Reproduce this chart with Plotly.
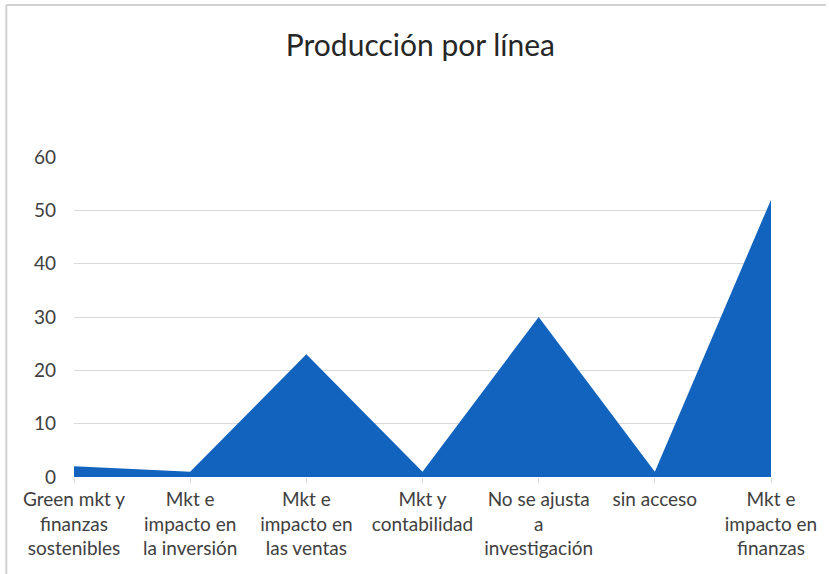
import plotly.graph_objects as go

# Production per line of work
categorias = [
    "Green mkt y<br>finanzas<br>sostenibles",
    "Mkt e<br>impacto en<br>la inversión",
    "Mkt e<br>impacto en<br>las ventas",
    "Mkt y<br>contabilidad",
    "No se ajusta<br>a<br>investigación",
    "sin acceso",
    "Mkt e<br>impacto en<br>finanzas",
]
produccion = [2, 1, 23, 1, 30, 1, 52]
y_ticks = [0, 10, 20, 30, 40, 50, 60]

FONT = "Lato"
AZUL = "#1263BE"

fig = go.Figure()
fig.add_trace(go.Scatter(
    x=list(range(len(categorias))),
    y=produccion,
    mode="lines",
    fill="tozeroy",
    fillcolor=AZUL,
    line=dict(color=AZUL, width=0),
    hoverinfo="x+y",
))

W, H = 829, 574
L, R, T, B = 74, 55, 157, 97

fig.update_layout(
    width=W, height=H,
    margin=dict(l=L, r=R, t=T, b=B),
    paper_bgcolor="white",
    plot_bgcolor="white",
    showlegend=False,
    title=dict(
        text="Producción por línea",
        x=0.497, xanchor="center", xref="paper",
        y=1 - 45 / H, yanchor="middle", yref="container",
        font=dict(family=FONT, size=30, color="#262626"),
    ),
    xaxis=dict(
        range=[0, len(categorias) - 1],
        tickmode="array",
        tickvals=list(range(len(categorias))),
        ticktext=categorias,
        showgrid=False,
        zeroline=False,
        showline=False,
        ticks="outside", ticklen=5, tickcolor="#d9d9d9",
        tickfont=dict(family=FONT, size=19, color="#404040"),
    ),
    yaxis=dict(
        range=[0, 60],
        tickmode="array",
        tickvals=y_ticks,
        showgrid=True, gridcolor="#d9d9d9", gridwidth=1,
        zeroline=False,
        showline=False,
        ticks="", ticklabelstandoff=17,
        tickfont=dict(family=FONT, size=19, color="#404040"),
    ),
)

# Light frame on the left and top edges of the chart area
pw, ph = W - L - R, H - T - B
def px(xp):
    return (xp - L) / pw
def py(yp):
    return (H - B - yp) / ph
frame = dict(type="line", xref="paper", yref="paper",
             line=dict(color="#d0d0d0", width=2))
fig.add_shape(**frame, x0=px(6), x1=px(6), y0=py(5), y1=py(H))
fig.add_shape(**frame, x0=px(6), x1=px(W), y0=py(5), y1=py(5))

fig.write_html("out.html")
